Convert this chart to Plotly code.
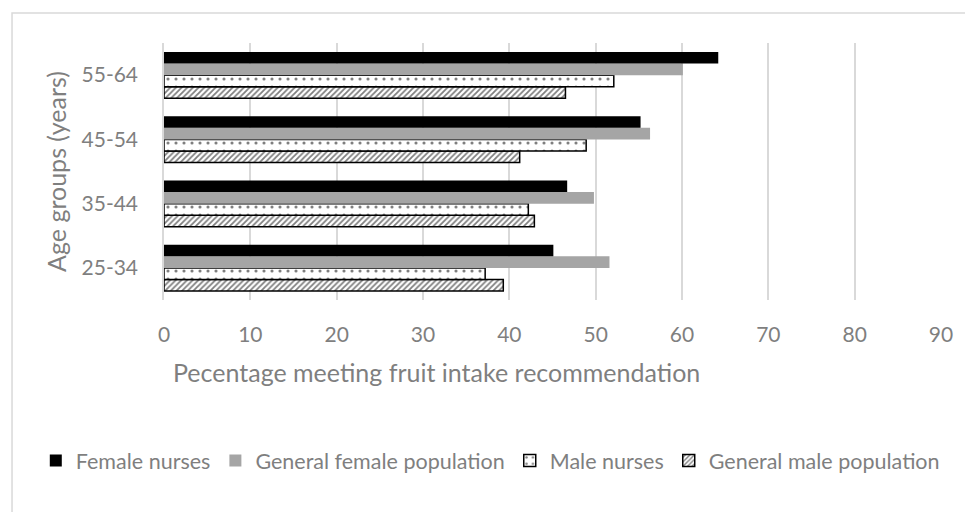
import plotly.graph_objects as go

categories = ["25-34", "35-44", "45-54", "55-64"]
female_nurses = [45.1, 46.7, 55.2, 64.2]
general_female = [51.6, 49.8, 56.3, 60.1]
male_nurses = [37.2, 42.2, 48.9, 52.1]
general_male = [39.3, 42.9, 41.2, 46.5]
x_ticks = [0, 10, 20, 30, 40, 50, 60, 70, 80, 90]

FONT = "Lato"
GREY_TXT = "#7f7f7f"

fig = go.Figure()

# Added bottom-to-top so that Female nurses sits on top of each group
fig.add_trace(go.Bar(
    y=categories, x=general_male, orientation="h", name="General male population",
    marker=dict(color="white", line=dict(color="black", width=1.5),
                pattern=dict(shape="/", fgcolor="black", bgcolor="white", size=4, solidity=0.45)),
))
fig.add_trace(go.Bar(
    y=categories, x=male_nurses, orientation="h", name="Male nurses",
    marker=dict(color="white", line=dict(color="black", width=1.5),
                pattern=dict(shape=".", fgcolor="black", bgcolor="white", size=8, solidity=0.12)),
))
fig.add_trace(go.Bar(
    y=categories, x=general_female, orientation="h", name="General female population",
    marker=dict(color="#a5a5a5", line=dict(width=0)),
))
fig.add_trace(go.Bar(
    y=categories, x=female_nurses, orientation="h", name="Female nurses",
    marker=dict(color="black", line=dict(width=0)),
))

fig.update_layout(
    width=973, height=512,
    margin=dict(l=156, r=40, t=35, b=220),
    paper_bgcolor="white", plot_bgcolor="white",
    barmode="group", bargap=0.28, bargroupgap=0,
    font=dict(family=FONT, size=21, color=GREY_TXT),
    showlegend=True,
    legend=dict(orientation="h", traceorder="reversed",
                x=-0.165, xanchor="left", y=-0.625, yanchor="middle",
                font=dict(family=FONT, size=21.5, color=GREY_TXT),
                itemwidth=30, bgcolor="rgba(0,0,0,0)"),
    xaxis=dict(range=[0, 90], tickvals=x_ticks, showgrid=True, automargin=False,
               gridcolor="#d9d9d9", gridwidth=1.5, zeroline=False,
               showline=False, ticks="", ticklabelstandoff=20,
               tickfont=dict(family=FONT, size=21, color=GREY_TXT)),
    yaxis=dict(showgrid=False, showline=True, linecolor="#d9d9d9", linewidth=1.5,
               ticks="", ticklabelstandoff=20, automargin=False,
               tickfont=dict(family=FONT, size=21, color=GREY_TXT),
               title=dict(text="Age groups (years)", standoff=8,
                          font=dict(family=FONT, size=25, color=GREY_TXT))),
    annotations=[dict(text="Pecentage meeting fruit intake recommendation",
                      xref="paper", yref="paper", x=0.351, y=-0.281,
                      xanchor="center", yanchor="middle", showarrow=False,
                      font=dict(family=FONT, size=25, color=GREY_TXT))],
    shapes=[dict(type="rect", xref="paper", yref="paper",
                 x0=-0.1956, x1=1.06, y0=1.117, y1=-0.9,
                 line=dict(color="#d9d9d9", width=1.5), fillcolor="rgba(0,0,0,0)",
                 layer="below")],
)

fig.write_html("out.html")
